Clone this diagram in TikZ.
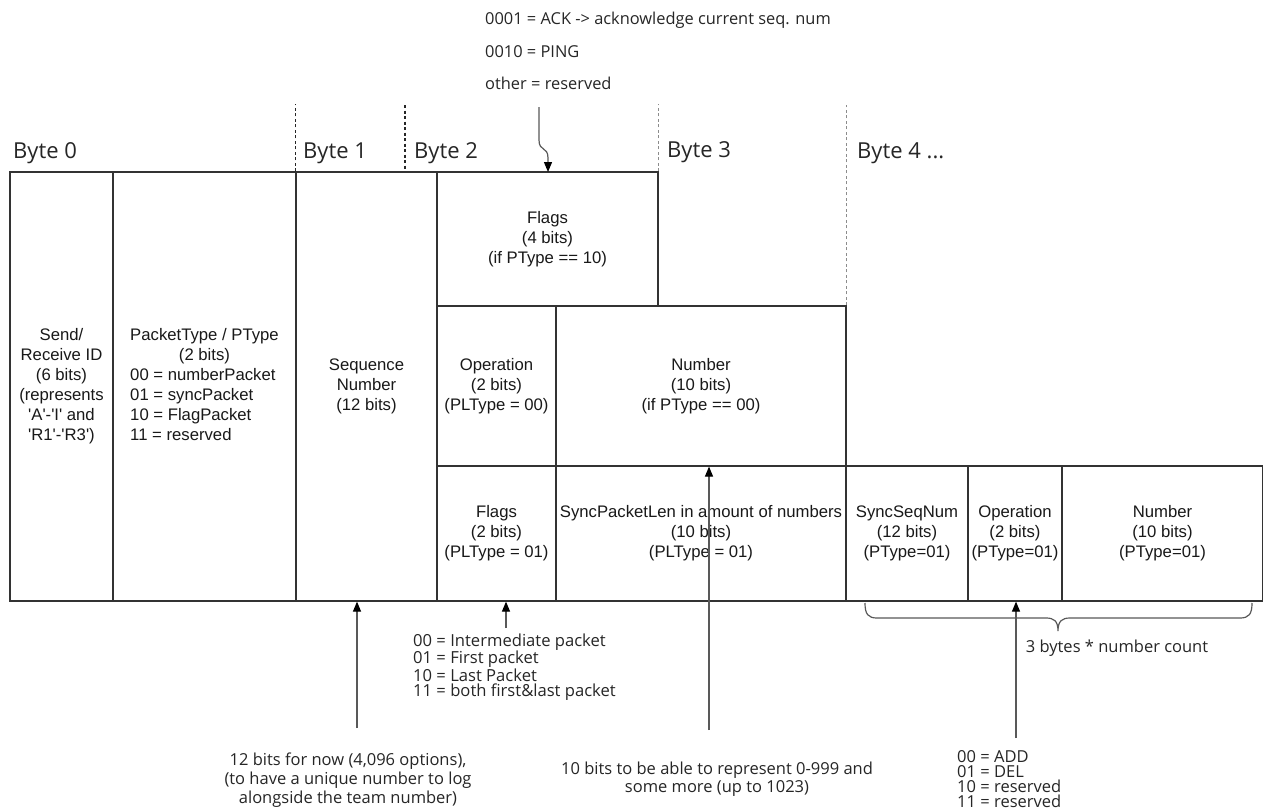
\documentclass[tikz,border=0pt]{standalone}
\usepackage{fontspec}
\setmainfont{Liberation Sans}
\newfontfamily\annfont{Open Sans}
\usetikzlibrary{arrows.meta}
\tikzset{
  fieldbox/.style={draw=black!80, line width=1.2pt, inner sep=0pt, align=center,
    font=\fontsize{16.7}{20}\selectfont, text=black!90},
  bytelbl/.style={anchor=west, inner sep=0pt, font=\annfont\fontsize{22}{26}\selectfont, text=black!85},
  ann/.style={inner sep=0pt, text=black!85},
  annarrow/.style={draw=black!65, line width=1.2pt, -{Triangle[length=10pt,width=8pt,color=black]}},
  bytediv/.style={dash pattern=on 3pt off 2.5pt, line width=1.1pt},
}
\begin{document}
\begin{tikzpicture}[x=1pt,y=-1pt]
\fill[white] (0,0) rectangle (1264,809);
\useasboundingbox (0,0) rectangle (1264,809);

% field boxes
\node[fieldbox, minimum width=103, minimum height=429] (sid) at (61.5,386.5)
  {\raisebox{-2pt}{\begin{tabular}{@{}c@{}}Send/\\Receive ID\\(6 bits)\\(represents\\\textquotesingle A\textquotesingle-\textquotesingle I\textquotesingle{} and\\\textquotesingle R1\textquotesingle-\textquotesingle R3\textquotesingle)\end{tabular}}};
\node[fieldbox, minimum width=183, minimum height=429] (ptype) at (204.5,386.5)
  {\raisebox{-2pt}{\begin{tabular}{@{}l@{}}\multicolumn{1}{@{}c@{}}{PacketType / PType}\\\multicolumn{1}{@{}c@{}}{(2 bits)}\\00 = numberPacket\\01 = syncPacket\\10 = FlagPacket\\11 = reserved\end{tabular}}};
\node[fieldbox, minimum width=141, minimum height=429] (seq) at (366.5,386.5)
  {Sequence\\Number\\(12 bits)};
\node[fieldbox, minimum width=221, minimum height=134] (flags4) at (547.5,239)
  {Flags\\(4 bits)\\(if PType == 10)};
\node[fieldbox, minimum width=119, minimum height=160] (op) at (496.5,386)
  {Operation\\(2 bits)\\(PLType = 00)};
\node[fieldbox, minimum width=290, minimum height=160] (num) at (701,386)
  {Number\\(10 bits)\\(if PType == 00)};
\node[fieldbox, minimum width=119, minimum height=135] (flags2) at (496.5,533.5)
  {Flags\\(2 bits)\\(PLType = 01)};
\node[fieldbox, minimum width=290, minimum height=135] (spl) at (701,533.5)
  {SyncPacketLen in amount of numbers\\(10 bits)\\(PLType = 01)};
\node[fieldbox, minimum width=122, minimum height=135] (ssn) at (907,533.5)
  {SyncSeqNum\\(12 bits)\\(PType=01)};
\node[fieldbox, minimum width=94, minimum height=135] (op2) at (1015,533.5)
  {Operation\\(2 bits)\\(PType=01)};
\node[fieldbox, minimum width=200, minimum height=135] (num2) at (1162.5,533.5)
  {Number\\(10 bits)\\(PType=01)};

% byte dividers
\draw[bytediv, black!85] (seq.north west) -- ++(0,-67);
\coordinate (b2div) at (405,105);
\draw[bytediv, black!85] (b2div) -- ++(0,65);
\draw[bytediv, black!45] (flags4.north east) -- ++(0,-67);
\draw[bytediv, black!45] (num.north east) -- (num.north east |- b2div);

% byte labels
\node[bytelbl] (byte0) at (13,153) {Byte 0};
\node[bytelbl] (byte1) at (303,153) {Byte 1};
\node[bytelbl] (byte2) at (414,153) {Byte 2};
\node[bytelbl] (byte3) at (667,152) {Byte 3};
\node[bytelbl] (byte4) at (857,153) {Byte 4 ...};

% annotations
\node[ann, anchor=west, align=left, font=\annfont\fontsize{16.4}{32.5}\selectfont] (flagsnote) at (485,51)
  {0001 = ACK -> acknowledge current seq. num\\0010 = PING\\other = reserved};
\node[ann, anchor=west, align=left, font=\annfont\fontsize{16.6}{14.7}\selectfont] (fl2note) at (413,667)
  {00 = Intermediate packet\\01 = First packet\\10 = Last Packet\\11 = both first\&last packet};
\node[ann, align=center, font=\annfont\fontsize{16.5}{18.7}\selectfont] (seqnote) at (348,780)
  {12 bits for now (4,096 options),\\(to have a unique number to log\\alongside the team number)};
\node[ann, align=center, font=\annfont\fontsize{16.5}{18}\selectfont] (numnote) at (717,779)
  {10 bits to be able to represent 0-999 and\\some more (up to 1023)};
\node[ann, anchor=west, align=left, font=\annfont\fontsize{16.5}{15}\selectfont] (opnote) at (957,779)
  {00 = ADD\\01 = DEL\\10 = reserved\\11 = reserved};
\node[ann, font=\annfont\fontsize{16.5}{20}\selectfont] (bracenote) at (1117,648)
  {3 bytes * number count};

% arrows
\coordinate (flagtail) at (539,107);
\draw[annarrow] (flagtail) -- (539,140) .. controls (539,152) and (548,146) .. (548,158) -- (548,172);
\coordinate (seqtail) at (357,728);
\draw[annarrow] (seqtail) -- (seqtail |- seq.south);
\coordinate (fl2tail) at (506,628);
\draw[annarrow] (fl2tail) -- (fl2tail |- flags2.south);
\coordinate (numtail) at (709,730);
\draw[annarrow] (numtail) -- (numtail |- num.south);
\coordinate (optail) at (1016,738);
\draw[annarrow] (optail) -- (optail |- op2.south);

% brace
\draw[black!65, line width=1.2pt]
  (865,603) .. controls (865,614) and (868,618) .. (877,618) -- (1046,618)
  .. controls (1054,618) and (1058,621) .. (1058,631)
  .. controls (1058,621) and (1062,618) .. (1070,618) -- (1240,618)
  .. controls (1249,618) and (1252,614) .. (1252,603);
\end{tikzpicture}
\end{document}
